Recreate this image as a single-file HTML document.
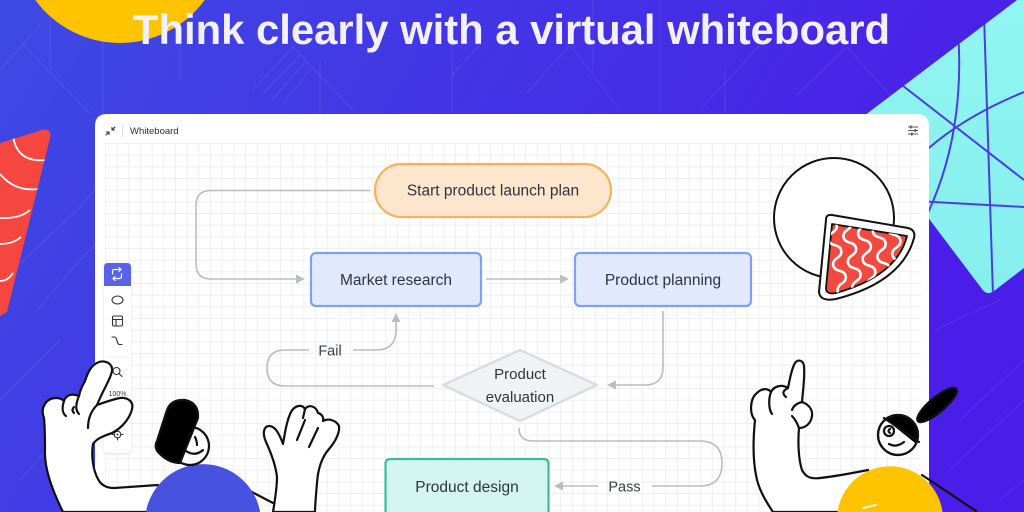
<!DOCTYPE html>
<html>
<head>
<meta charset="utf-8">
<style>
html,body{margin:0;padding:0;background:#4338e4;width:1024px;height:512px;overflow:hidden;}
svg{display:block;}
text{font-family:"Liberation Sans",sans-serif;}
</style>
</head>
<body>
<svg width="1024" height="512" viewBox="0 0 1024 512" xmlns="http://www.w3.org/2000/svg">
<defs>
  <linearGradient id="bg" x1="0" y1="0" x2="1" y2="0.3">
    <stop offset="0" stop-color="#3e4ae3"/>
    <stop offset="0.5" stop-color="#4333e6"/>
    <stop offset="1" stop-color="#4b1de8"/>
  </linearGradient>
  <linearGradient id="cy" x1="0" y1="0" x2="0" y2="1">
    <stop offset="0" stop-color="#91f6f1"/>
    <stop offset="1" stop-color="#86eeee"/>
  </linearGradient>
  <pattern id="grid" x="105" y="143" width="11.67" height="11.67" patternUnits="userSpaceOnUse">
    <path d="M0 0.5 H11.67 M0.5 0 V11.67" stroke="#efeff2" stroke-width="1" fill="none"/>
  </pattern>
  <clipPath id="cyclip">
    <path d="M856 122 L1017 0 L1024 0 L1024 268 L994 291 Q987 296 982 289 Z"/>
  </clipPath>
  <clipPath id="redclip">
    <path d="M0 143 L42 130 Q52 128 50 138 L7 312 L0 316 Z"/>
  </clipPath>
  <clipPath id="salclip">
    <path d="M832 224 L907 236 Q897 276 836 293 Q826 295 826 288 Z"/>
  </clipPath>
  <clipPath id="headR">
    <circle cx="898" cy="435" r="20"/>
  </clipPath>
  <filter id="sh" x="-20%" y="-20%" width="140%" height="140%">
    <feDropShadow dx="0" dy="1" stdDeviation="1.5" flood-color="#000" flood-opacity="0.12"/>
  </filter>
</defs>

<!-- background -->
<rect x="0" y="0" width="1024" height="512" fill="url(#bg)"/>

<!-- faint background line pattern -->
<g stroke="#ffffff" stroke-opacity="0.09" stroke-width="1" fill="none">
  <path d="M50 15 V70 M103 40 V115 M180 0 V80 M320 60 V114 M452 40 V112 M593 0 V70 M660 0 V112 M725 70 V112"/>
  <path d="M23 45 L90 113 M0 70 L40 25"/>
  <path d="M253 90 L293 47 L353 110 M262 95 L300 55 M272 100 L305 62 M282 105 L310 70"/>
  <path d="M527 93 L570 45 L620 110 M452 75 L480 45"/>
  <path d="M797 95 L847 47 L895 100 M700 110 L760 45"/>
  <path d="M0 283 L80 207 L95 190 M37 310 L80 260 L95 245 M0 400 L60 340 M20 480 L90 400"/>
  <path d="M950 470 L1024 400 M960 420 L1024 360 M1000 500 L1024 480 M935 330 L1000 300"/>
</g>

<!-- yellow circle top-left -->
<path d="M35.3 0 A105 105 0 0 0 204.7 0 Z" fill="#ffc400"/>

<!-- red salmon shape left -->
<path d="M0 143 L42 130 Q52 128 50 138 L7 312 L0 316 Z" fill="#f5473f"/>
<g clip-path="url(#redclip)" stroke="#ffffff" stroke-width="1.8" fill="none">
  <path d="M13 136 Q17 163 46 160"/>
  <path d="M0 174 Q15 192 38 189"/>
  <path d="M0 218 Q20 219 30 210"/>
  <path d="M0 244 Q13 244 21 237"/>
  <path d="M0 281 Q8 281 13 273"/>
</g>

<!-- cyan shape right -->
<path d="M856 122 L1017 0 L1024 0 L1024 268 L994 291 Q987 296 982 289 Z" fill="url(#cy)"/>
<g clip-path="url(#cyclip)" stroke="#4a3ee2" stroke-width="2" fill="none">
  <path d="M880 68 L1024 180"/>
  <path d="M958 30 Q966 140 922 225"/>
  <path d="M984 15 L993 295"/>
  <path d="M920 156 Q960 118 1024 92"/>
  <path d="M915 201 L1024 207"/>
</g>

<!-- title -->
<text x="133" y="44" font-size="42" font-weight="bold" fill="#f3f1ff" textLength="757" lengthAdjust="spacingAndGlyphs">Think clearly with a virtual whiteboard</text>

<!-- card -->
<path d="M95 512 V126 Q95 114 107 114 H917 Q929 114 929 126 V512 Z" fill="#ffffff"/>
<rect x="105" y="143" width="816" height="369" fill="url(#grid)"/>

<!-- header -->
<g stroke="#333" stroke-width="1.1" fill="none" stroke-linecap="round">
  <path d="M106 135 L109 132 M109 132 V134.5 M109 132 H106.5"/>
  <path d="M115 127 L112 130 M112 130 V127.5 M112 130 H114.5"/>
</g>
<line x1="122.5" y1="125" x2="122.5" y2="137" stroke="#dedede" stroke-width="1"/>
<text x="130" y="134" font-size="9.5" fill="#2a2d33">Whiteboard</text>
<g stroke="#555" stroke-width="1" fill="none">
  <path d="M908 127 H918 M908 130.5 H918 M908 134 H918"/>
</g>
<g fill="#555">
  <rect x="910" y="125.5" width="1.6" height="3"/>
  <rect x="914.5" y="129" width="1.6" height="3"/>
  <rect x="911" y="132.5" width="1.6" height="3"/>
</g>

<!-- salmon circle illustration -->
<circle cx="834" cy="218" r="60" fill="#ffffff" stroke="#111" stroke-width="2"/>
<path d="M826 220 Q826 214 832 215 L908 228 Q916 230 914 238 Q902 282 836 299 Q820 302 819 292 Z" fill="#ffffff" stroke="#111" stroke-width="2" stroke-linejoin="round"/>
<path d="M832 224 L907 236 Q897 276 836 293 Q826 295 826 288 Z" fill="#f24a40" stroke="#111" stroke-width="1.8" stroke-linejoin="round"/>
<g clip-path="url(#salclip)">
  <g stroke="#ffffff" stroke-width="2.6" fill="none" stroke-linecap="round" transform="rotate(-10 866 260)">
    <path d="M838 214 c7 3 7 10 0 13 c-7 3 -7 10 0 13 c7 3 7 10 0 13 c-7 3 -7 10 0 13 c7 3 7 10 0 13 c-7 3 -7 10 0 13"/>
    <path d="M853 214 c7 3 7 10 0 13 c-7 3 -7 10 0 13 c7 3 7 10 0 13 c-7 3 -7 10 0 13 c7 3 7 10 0 13 c-7 3 -7 10 0 13"/>
    <path d="M868 214 c7 3 7 10 0 13 c-7 3 -7 10 0 13 c7 3 7 10 0 13 c-7 3 -7 10 0 13 c7 3 7 10 0 13 c-7 3 -7 10 0 13"/>
    <path d="M883 214 c7 3 7 10 0 13 c-7 3 -7 10 0 13 c7 3 7 10 0 13 c-7 3 -7 10 0 13 c7 3 7 10 0 13 c-7 3 -7 10 0 13"/>
    <path d="M898 214 c7 3 7 10 0 13 c-7 3 -7 10 0 13 c7 3 7 10 0 13 c-7 3 -7 10 0 13 c7 3 7 10 0 13 c-7 3 -7 10 0 13"/>
  </g>
</g>

<!-- connectors -->
<g stroke="#babdc4" stroke-width="1.6" fill="none">
  <path d="M370 190.5 H211 Q196 190.5 196 205.5 V264 Q196 279 211 279 H297"/>
  <path d="M486 279 H561"/>
  <path d="M663 311 V367 Q663 385 645 385 H615"/>
  <path d="M434 386 H285 Q267 386 267 368 Q267 350 285 350 H309"/>
  <path d="M353 350 H376 Q396 350 396 330 V321"/>
  <path d="M519 428 Q519 441 533 441 H700 Q722 441 722 463 Q722 486 700 486 H652"/>
  <path d="M598 486 H563"/>
</g>
<g fill="#babdc4">
  <polygon points="305,279 296,274.5 296,283.5"/>
  <polygon points="569,279 560,274.5 560,283.5"/>
  <polygon points="607,385 616,380.5 616,389.5"/>
  <polygon points="396,313 391.5,322 400.5,322"/>
  <polygon points="554,486 563,481.5 563,490.5"/>
</g>
<text x="330" y="355.5" font-size="14.5" fill="#3a3f48" text-anchor="middle">Fail</text>
<text x="624.5" y="491.5" font-size="14.5" fill="#3a3f48" text-anchor="middle">Pass</text>

<!-- nodes -->
<rect x="375" y="164" width="236" height="53" rx="26.5" fill="#fde6cd" stroke="#f8b35a" stroke-width="2.2"/>
<text x="493" y="195.5" font-size="15.5" fill="#2e3440" text-anchor="middle">Start product launch plan</text>

<rect x="311" y="253" width="170" height="53" rx="5" fill="#e2e9fe" stroke="#7ea1f6" stroke-width="2.2"/>
<text x="396" y="285" font-size="15.5" fill="#2e3440" text-anchor="middle">Market research</text>

<rect x="575" y="253" width="176" height="53" rx="5" fill="#e2e9fe" stroke="#7ea1f6" stroke-width="2.2"/>
<text x="663" y="285" font-size="15.5" fill="#2e3440" text-anchor="middle">Product planning</text>

<polygon points="443,385 520,350 597,385 520,421" fill="#f1f2f4" stroke="#dcdde1" stroke-width="2.5" stroke-linejoin="round"/>
<text x="520" y="379" font-size="15" fill="#2e3440" text-anchor="middle">Product</text>
<text x="520" y="402" font-size="15" fill="#2e3440" text-anchor="middle">evaluation</text>

<path d="M385.5 512 V464 Q385.5 459 390.5 459 H543.5 Q548.5 459 548.5 464 V512 Z" fill="#d4f4ef"/>
<path d="M385.5 512 V464 Q385.5 459 390.5 459 H543.5 Q548.5 459 548.5 464 V512" fill="none" stroke="#3cbba3" stroke-width="2.2"/>
<text x="467" y="492" font-size="15.5" fill="#2e3440" text-anchor="middle">Product design</text>

<!-- toolbar -->
<rect x="104" y="263" width="27" height="190" rx="4" fill="#ffffff" filter="url(#sh)"/>
<path d="M104 286 V267 Q104 263 108 263 H127 Q131 263 131 267 V286 Z" fill="#5a63e8"/>
<g stroke="#ffffff" stroke-width="1.2" fill="none" stroke-linecap="round" stroke-linejoin="round">
  <path d="M112.5 274 V271.5 Q112.5 269.5 114.5 269.5 H121 M119 267.5 L121 269.5 L119 271.5"/>
  <path d="M121.5 274 V276.5 Q121.5 278.5 119.5 278.5 H113 M115 276.5 L113 278.5 L115 280.5"/>
</g>
<g stroke="#2e3238" stroke-width="1.1" fill="none" stroke-linecap="round" stroke-linejoin="round">
  <ellipse cx="117.5" cy="300" rx="5.5" ry="4"/>
  <rect x="112.5" y="316" width="10" height="10" rx="1.5"/>
  <path d="M112.5 319.5 H122.5 M116 319.5 V326"/>
  <path d="M112 337 H114.5 Q115.5 337 116 338 L118 343.5 Q118.5 344.5 119.5 344.5 H122"/>
  <circle cx="116.5" cy="371" r="3.5"/>
  <path d="M119 373.5 L122 376.5"/>
  <circle cx="117.5" cy="434.5" r="3.3"/>
  <path d="M117.5 429 V430.5 M117.5 438.5 V440 M112 434.5 H113.5 M121.5 434.5 H123"/>
</g>
<circle cx="117.5" cy="434.5" r="1" fill="#2e3238"/>
<line x1="107" y1="357" x2="128" y2="357" stroke="#ececec" stroke-width="1"/>
<text x="117.5" y="396" font-size="7" fill="#3a3d44" text-anchor="middle">100%</text>

<!-- LEFT CHARACTER -->
<g stroke="#111" stroke-width="2.2" stroke-linejoin="round" stroke-linecap="round">
  <path fill="#ffffff" d="M63 512 C54 494 44 470 45 450 C45 438 45 428 44 418 C40 408 46 398 56 398 C60 398 62 399 64 401 C66 395 72 393 79 396 C80 391 82 386 85 381 C88 372 91 365 99 362 C106 360 113 364 112 371 C111 378 104 388 97 405 C103 403 110 400 120 398 C128 397 134 402 132 409 C130 418 122 428 112 433 C104 436 97 438 93 444 C91 456 93 470 98 479 C101 485 106 488 114 488 C128 487 143 486 158 485 L165 512 Z"/>
  <path fill="none" d="M64 401 C62 407 62 413 66 416"/>
  <path fill="none" d="M79 396 C76 403 75 410 79 414"/>
  <path fill="none" d="M74 407 Q71 410 74 413"/>
  <path fill="none" d="M97 405 C92 410 88 418 88 428"/>
  <path fill="none" d="M248 490 L273 503"/>
</g>
<path d="M145.9 512 A58 58 0 0 1 260.1 512 Z" fill="#4753e0"/>
<g stroke="#111" stroke-width="2.2" stroke-linejoin="round" stroke-linecap="round">
  <circle cx="190" cy="446" r="19" fill="#ffffff"/>
  <path fill="#000" d="M167 410 Q171 399 185 400 Q199 403 198 418 L180 463 Q168 463 158 452 Q154 447 157 441 Z"/>
  <path fill="none" d="M186 451 Q195 457 203 450"/>
  <path fill="none" d="M195 437 Q197 441 197 445"/>
  <path fill="#ffffff" d="M273 512 C275 500 277 488 277 477 C276 468 272 455 266 442 C262 433 264 426 269 426 C275 426 279 433 283 444 C285 432 287 420 291 412 C295 405 302 404 305 409 C309 404 316 406 318 413 C322 414 324 418 323 421 C328 418 336 420 339 426 C340 433 335 442 329 449 C322 457 318 468 317 483 C316 495 315 505 315 512 Z"/>
  <path fill="none" d="M297 440 L305 420 M309 447 L318 428 M305 409 L303 418"/>
</g>

<!-- RIGHT CHARACTER -->
<g stroke="#111" stroke-width="2.2" stroke-linejoin="round" stroke-linecap="round">
  <path fill="#ffffff" d="M773 512 C765 500 758 488 756 475 C753 460 753 440 755 420 C749 414 750 398 757 393 C762 388 768 388 771 392 C774 386 782 384 788 388 C790 378 792 368 795 363 C798 359 803 360 804 366 C805 377 803 390 802 402 C808 404 813 409 812 416 C811 423 806 428 799 428 C798 440 798 458 802 470 C806 478 812 479 820 478 C838 476 853 473 868 470 L880 512 Z"/>
  <path fill="none" d="M771 392 C768 400 769 410 772 414"/>
  <path fill="none" d="M788 388 Q780 392 786 397"/>
  <path fill="none" d="M802 402 Q794 404 792 410 M799 428 Q796 420 792 416"/>
</g>
<path d="M837.5 512 A53 53 0 0 1 942.5 512 Z" fill="#ffc400"/>
<line x1="863" y1="508" x2="876" y2="505" stroke="#ffffff" stroke-width="1.8" stroke-linecap="round"/>
<g stroke="#111" stroke-width="2.2" stroke-linejoin="round" stroke-linecap="round">
  <path fill="none" d="M922 475 L976 511"/>
  <ellipse cx="937" cy="405" rx="25" ry="7.5" transform="rotate(-40 937 405)" fill="#000"/>
  <circle cx="898" cy="435" r="20" fill="#ffffff"/>
  <g clip-path="url(#headR)">
    <path fill="#000" stroke="none" d="M875 405 L884 418 L920 447 L930 420 L910 405 Z"/>
  </g>
  <path fill="none" d="M884 418 L919 442"/>
  <circle cx="898" cy="435" r="20" fill="none"/>
  <circle cx="889" cy="431" r="5" fill="#ffffff"/>
  <path fill="none" d="M890 429 Q887 431 890 433"/>
  <path fill="none" d="M889 444 Q896 448 904 442"/>
</g>
</svg>
</body>
</html>
